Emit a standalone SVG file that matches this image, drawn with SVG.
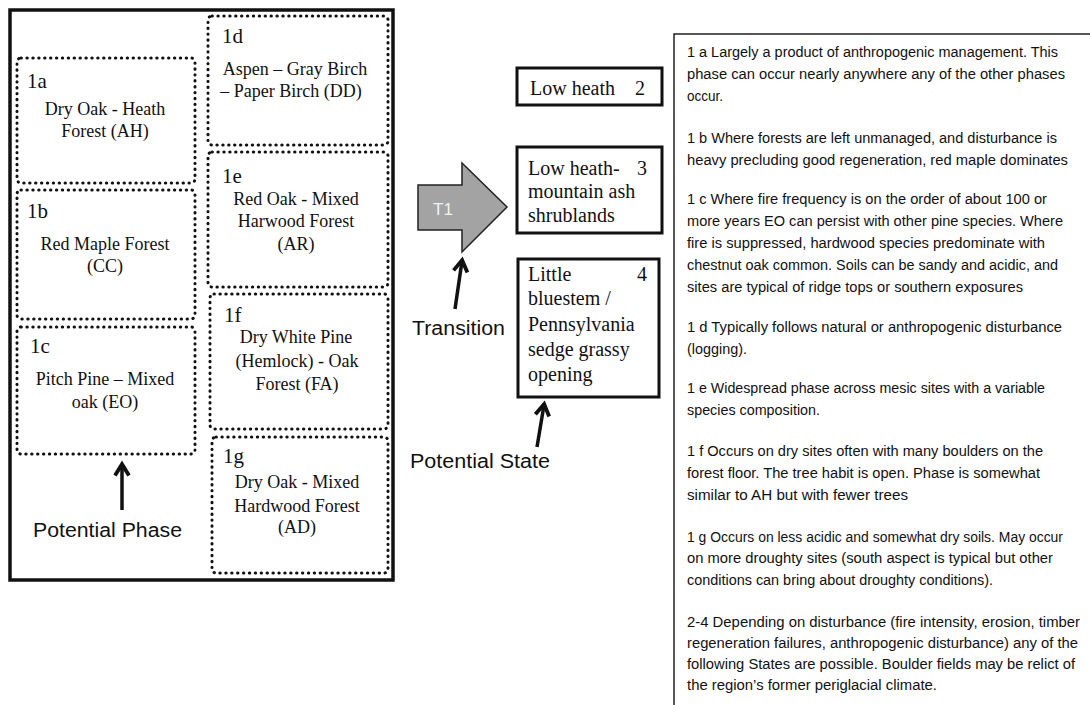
<svg xmlns="http://www.w3.org/2000/svg" width="1090" height="705" viewBox="0 0 1090 705">
<style>
.dot{fill:none;stroke:#111;stroke-width:3;stroke-dasharray:0.4 5.5;stroke-linecap:round}
.lbl{font-family:"Liberation Serif",serif;font-size:21px;fill:#111}
.body{font-family:"Liberation Serif",serif;font-size:18px;fill:#111;text-anchor:middle}
.st{font-family:"Liberation Serif",serif;font-size:20px;fill:#111}
.box{fill:#fff;stroke:#111;stroke-width:3}
.sans{font-family:"Liberation Sans",Arial,sans-serif;font-size:20px;fill:#111}
.desc{font-family:"Liberation Sans",Arial,sans-serif;font-size:13.8px;fill:#111}
.arr{stroke:#111;stroke-width:3.5;fill:none}
</style>
<defs>
<marker id="ah" viewBox="0 0 10 10" refX="7" refY="5" markerWidth="5" markerHeight="5" orient="auto" markerUnits="strokeWidth">
<path d="M1,1 L7.5,5 L1,9" fill="none" stroke="#111" stroke-width="2.2" stroke-linejoin="miter"/>
</marker>
</defs>
<rect width="1090" height="705" fill="#fff"/>
<g id="outer"><rect x="10" y="10" width="383" height="570" fill="none" stroke="#111" stroke-width="3.5"/></g>
<g id="n1a"><rect class="dot" x="17" y="58" width="178" height="125" rx="4"/><text class="lbl" x="27" y="88">1a</text><text class="body" x="105" y="115">Dry Oak - Heath</text><text class="body" x="105" y="137">Forest (AH)</text></g>
<g id="n1b"><rect class="dot" x="17" y="190" width="178" height="129" rx="4"/><text class="lbl" x="27" y="218">1b</text><text class="body" x="105" y="250">Red Maple Forest</text><text class="body" x="105" y="272">(CC)</text></g>
<g id="n1c"><rect class="dot" x="17" y="327" width="178" height="127" rx="4"/><text class="lbl" x="30" y="353">1c</text><text class="body" x="105" y="385">Pitch Pine – Mixed</text><text class="body" x="105" y="408">oak (EO)</text></g>
<g id="n1d"><rect class="dot" x="208" y="16" width="180" height="129" rx="4"/><text class="lbl" x="222" y="43">1d</text><text class="body" x="295" y="75">Aspen – Gray Birch</text><text class="body" x="291" y="97">– Paper Birch (DD)</text></g>
<g id="n1e"><rect class="dot" x="208" y="152" width="180" height="135" rx="4"/><text class="lbl" x="222" y="183">1e</text><text class="body" x="296" y="205">Red Oak - Mixed</text><text class="body" x="296" y="227">Harwood Forest</text><text class="body" x="296" y="250">(AR)</text></g>
<g id="n1f"><rect class="dot" x="210" y="294" width="178" height="135" rx="4"/><text class="lbl" x="224" y="322">1f</text><text class="body" x="296" y="343">Dry White Pine</text><text class="body" x="297" y="367">(Hemlock) - Oak</text><text class="body" x="297" y="390">Forest (FA)</text></g>
<g id="n1g"><rect class="dot" x="212" y="437" width="176" height="136" rx="4"/><text class="lbl" x="223" y="463">1g</text><text class="body" x="297" y="488">Dry Oak - Mixed</text><text class="body" x="297" y="512">Hardwood Forest</text><text class="body" x="297" y="533">(AD)</text></g>
<g id="s2"><rect class="box" x="517" y="68" width="145" height="37"/><text class="st" x="530" y="95">Low heath</text><text class="st" x="635" y="95">2</text></g>
<g id="s3"><rect class="box" x="517" y="147" width="145" height="86"/><text class="st" x="528" y="175">Low heath-</text><text class="st" x="637" y="175">3</text><text class="st" x="528" y="198">mountain ash</text><text class="st" x="528" y="222">shrublands</text></g>
<g id="s4"><rect class="box" x="518" y="259" width="141" height="138"/><text class="st" x="528" y="281">Little</text><text class="st" x="637" y="281">4</text><text class="st" x="528" y="305">bluestem /</text><text class="st" x="528" y="331">Pennsylvania</text><text class="st" x="528" y="356">sedge  grassy</text><text class="st" x="528" y="381">opening</text></g>
<g id="t1"><polygon points="418,185 462,185 462,163 507,207 462,252 462,230 418,230" fill="#a3a3a3" stroke="#222" stroke-width="1.5"/><text x="443" y="215" font-family="Liberation Sans,Arial,sans-serif" font-size="17" fill="#f2f2f2" text-anchor="middle">T1</text></g>
<g id="connectors">
<line class="arr" x1="122" y1="510" x2="122" y2="465" marker-end="url(#ah)"/>
<line class="arr" x1="455" y1="309" x2="462" y2="261" marker-end="url(#ah)"/>
<line class="arr" x1="537" y1="447" x2="544" y2="405" marker-end="url(#ah)"/>
</g>
<g id="labels">
<text class="sans" x="33" y="537" textLength="149" lengthAdjust="spacingAndGlyphs">Potential Phase</text>
<text class="sans" x="412" y="335" textLength="93" lengthAdjust="spacingAndGlyphs">Transition</text>
<text class="sans" x="410" y="468" textLength="140" lengthAdjust="spacingAndGlyphs">Potential State</text>
</g>
<g id="descriptions">
<rect x="674" y="34" width="430" height="700" fill="none" stroke="#222" stroke-width="1.5"/>
<text class="desc" x="687" y="57" textLength="371" lengthAdjust="spacingAndGlyphs">1 a Largely a product of anthropogenic management. This</text>
<text class="desc" x="687" y="79" textLength="378" lengthAdjust="spacingAndGlyphs">phase  can occur nearly anywhere any of the other phases</text>
<text class="desc" x="687" y="101" textLength="36" lengthAdjust="spacingAndGlyphs">occur.</text>
<text class="desc" x="687" y="143" textLength="370" lengthAdjust="spacingAndGlyphs">1 b Where forests are left unmanaged, and disturbance is</text>
<text class="desc" x="687" y="165" textLength="381" lengthAdjust="spacingAndGlyphs">heavy precluding good regeneration, red maple dominates</text>
<text class="desc" x="687" y="204" textLength="360" lengthAdjust="spacingAndGlyphs">1 c Where fire frequency is on the order of about 100 or</text>
<text class="desc" x="687" y="226" textLength="376" lengthAdjust="spacingAndGlyphs">more years EO can persist with other pine species.  Where</text>
<text class="desc" x="687" y="248" textLength="358" lengthAdjust="spacingAndGlyphs">fire is suppressed, hardwood species predominate with</text>
<text class="desc" x="687" y="270" textLength="371" lengthAdjust="spacingAndGlyphs">chestnut oak common. Soils can be sandy and acidic, and</text>
<text class="desc" x="687" y="292" textLength="336" lengthAdjust="spacingAndGlyphs">sites are typical of ridge tops or southern exposures</text>
<text class="desc" x="687" y="332" textLength="375" lengthAdjust="spacingAndGlyphs">1 d Typically follows natural or anthropogenic disturbance</text>
<text class="desc" x="687" y="354" textLength="60" lengthAdjust="spacingAndGlyphs">(logging).</text>
<text class="desc" x="687" y="393" textLength="358" lengthAdjust="spacingAndGlyphs">1 e Widespread phase across mesic sites with a variable</text>
<text class="desc" x="687" y="415" textLength="133" lengthAdjust="spacingAndGlyphs">species composition.</text>
<text class="desc" x="687" y="456" textLength="356" lengthAdjust="spacingAndGlyphs">1 f Occurs on dry sites often with many boulders on the</text>
<text class="desc" x="687" y="478" textLength="353" lengthAdjust="spacingAndGlyphs">forest floor. The tree habit is open. Phase is somewhat</text>
<text class="desc" x="687" y="500" textLength="221" lengthAdjust="spacingAndGlyphs">similar to AH but with fewer trees</text>
<text class="desc" x="687" y="542" textLength="376" lengthAdjust="spacingAndGlyphs">1 g Occurs on less acidic and somewhat dry soils.  May occur</text>
<text class="desc" x="687" y="563" textLength="366" lengthAdjust="spacingAndGlyphs">on more droughty sites (south aspect is typical but other</text>
<text class="desc" x="687" y="585" textLength="306" lengthAdjust="spacingAndGlyphs">conditions can bring about droughty conditions).</text>
<text class="desc" x="687" y="627" textLength="393" lengthAdjust="spacingAndGlyphs">2-4 Depending on disturbance (fire intensity, erosion, timber</text>
<text class="desc" x="687" y="648" textLength="391" lengthAdjust="spacingAndGlyphs">regeneration failures, anthropogenic disturbance) any of the</text>
<text class="desc" x="687" y="669" textLength="388" lengthAdjust="spacingAndGlyphs">following States are possible.  Boulder fields may be relict of</text>
<text class="desc" x="687" y="690" textLength="250" lengthAdjust="spacingAndGlyphs">the region’s former periglacial climate.</text>
</g>
</svg>
